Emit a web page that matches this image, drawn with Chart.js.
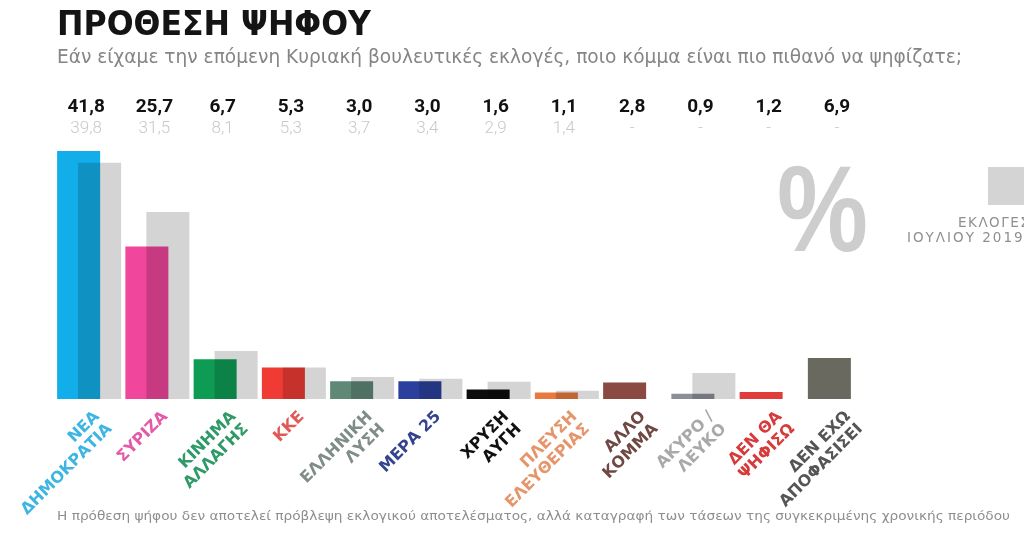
<!DOCTYPE html>
<html>
<head>
<meta charset="utf-8">
<script src="https://cdn.jsdelivr.net/npm/chart.js@4.4.0/dist/chart.umd.min.js"></script>
<style>
html,body{margin:0;padding:0;background:#fff;width:1024px;height:536px;overflow:hidden;}
#wrap{position:relative;width:1024px;height:536px;overflow:hidden;}
#c{position:absolute;left:0;top:0;}
.t{position:absolute;white-space:nowrap;margin:0;line-height:1;transform-origin:0 0;}
#title{left:57px;top:7px;font-family:"DejaVu Sans";font-weight:bold;font-size:33px;color:#141414;}
#subtitle{left:57px;top:47px;font-family:"DejaVu Sans";font-size:19px;color:#858585;}
#footer{left:57px;top:509px;font-family:"DejaVu Sans";font-size:13px;color:#8e8e8e;}
#pct{left:777px;top:147px;font-family:"Liberation Sans";font-weight:bold;font-size:123px;color:#cdcdcd;}
#legbox{position:absolute;left:988px;top:167px;width:40px;height:38px;background:#d4d4d4;}
.leg{font-family:"DejaVu Sans";font-size:13.5px;color:#8f8f8f;}
#leg1{left:958px;top:216px;letter-spacing:1.5px;}
#leg2{left:907px;top:231px;letter-spacing:2px;}
</style>
</head>
<body>
<div id="wrap">
<canvas id="c" width="1024" height="536"></canvas>
<div class="t" id="title" data-w="314">ΠΡΟΘΕΣΗ ΨΗΦΟΥ</div>
<div class="t" id="subtitle" data-w="905">Εάν είχαμε την επόμενη Κυριακή βουλευτικές εκλογές, ποιο κόμμα είναι πιο πιθανό να ψηφίζατε;</div>
<div class="t" id="pct" data-w="91">%</div>
<div id="legbox"></div>
<div class="t leg" id="leg1">ΕΚΛΟΓΕΣ</div>
<div class="t leg" id="leg2">ΙΟΥΛΙΟΥ 2019</div>
<div class="t" id="footer" data-w="953">Η πρόθεση ψήφου δεν αποτελεί πρόβλεψη εκλογικού αποτελέσματος, αλλά καταγραφή των τάσεων της συγκεκριμένης χρονικής περιόδου</div>
</div>
<script>
// ---- data ----
const categories = [
  ["ΝΕΑ","ΔΗΜΟΚΡΑΤΙΑ"], ["ΣΥΡΙΖΑ"], ["ΚΙΝΗΜΑ","ΑΛΛΑΓΗΣ"], ["ΚΚΕ"],
  ["ΕΛΛΗΝΙΚΗ","ΛΥΣΗ"], ["ΜΕΡΑ 25"], ["ΧΡΥΣΗ","ΑΥΓΗ"], ["ΠΛΕΥΣΗ","ΕΛΕΥΘΕΡΙΑΣ"],
  ["ΑΛΛΟ","ΚΟΜΜΑ"], ["ΑΚΥΡΟ /","ΛΕΥΚΟ"], ["ΔΕΝ ΘΑ","ΨΗΦΙΣΩ"], ["ΔΕΝ ΕΧΩ","ΑΠΟΦΑΣΙΣΕΙ"]
];
const currentValues  = [41.8, 25.7, 6.7, 5.3, 3.0, 3.0, 1.6, 1.1, 2.8, 0.9, 1.2, 6.9];
const previousValues = [39.8, 31.5, 8.1, 5.3, 3.7, 3.4, 2.9, 1.4, null, 4.4, null, null];
const currentLabels  = ["41,8","25,7","6,7","5,3","3,0","3,0","1,6","1,1","2,8","0,9","1,2","6,9"];
const previousLabels = ["39,8","31,5","8,1","5,3","3,7","3,4","2,9","1,4","-","-","-","-"];
const barColors   = ["#12aee9","#f0469c","#0e9c55","#ef3b33","#5f8877","#2b3f9c","#0c0c0c","#e9793f","#8a4a42","#8b8f97","#e13c3c","#6a695f"];
const labelColors = ["#3db5e2","#e25aa8","#2f9a68","#e05a55","#7f8c88","#34438f","#111111","#e6956a","#6e4842","#a9a9a9","#d83a3a","#555555"];
const previousColor = "#d4d4d4";

// ---- plugins ----
const multiplyPlugin = {
  id: 'multiply',
  beforeDatasetDraw(chart, args) {
    if (args.index === 0) { chart.ctx.save(); chart.ctx.globalCompositeOperation = 'multiply'; }
  },
  afterDatasetDraw(chart, args) {
    if (args.index === 0) { chart.ctx.restore(); }
  }
};
const numbersPlugin = {
  id: 'numbers',
  afterDraw(chart) {
    const ctx = chart.ctx, xs = chart.scales.x;
    ctx.save();
    ctx.textAlign = 'center';
    ctx.textBaseline = 'alphabetic';
    currentLabels.forEach((t, i) => {
      const x = xs.getPixelForValue(i) - 3;
      ctx.font = 'bold 19px Roboto';
      ctx.fillStyle = '#111111';
      ctx.fillText(t, x, 112);
      ctx.font = '300 17px Roboto';
      ctx.fillStyle = '#c9c9c9';
      ctx.fillText(previousLabels[i], x, 133);
    });
    ctx.restore();
  }
};

new Chart(document.getElementById('c'), {
  type: 'bar',
  data: {
    labels: categories,
    datasets: [
      { data: currentValues, backgroundColor: barColors, borderWidth: 0,
        categoryPercentage: 0.615, barPercentage: 2.05 },
      { data: previousValues, backgroundColor: previousColor, borderWidth: 0,
        categoryPercentage: 0.615, barPercentage: 2.05 }
    ]
  },
  options: {
    responsive: false,
    animation: false,
    layout: { padding: { left: 55, right: 150, top: 132, bottom: 0 } },
    plugins: { legend: { display: false }, tooltip: { enabled: false }, title: { display: false } },
    scales: {
      x: {
        type: 'category',
        offset: true,
        grid: { display: false, drawTicks: false },
        border: { display: false },
        ticks: {
          autoSkip: false, minRotation: 45, maxRotation: 45,
          padding: 9, labelOffset: 8,
          color: (ctx) => labelColors[ctx.index],
          font: { family: 'DejaVu Sans', weight: 'bold', size: 16, lineHeight: 1.1 }
        },
        afterFit: (s) => { s.height = 137; s.paddingLeft = 0; s.paddingRight = 0; }
      },
      y: { display: false, min: 0, max: 45 }
    }
  },
  plugins: [multiplyPlugin, numbersPlugin]
});

// fit HTML text widths
function fit() {
  document.querySelectorAll('[data-w]').forEach(el => {
    el.style.transform = 'none';
    const w = el.getBoundingClientRect().width;
    const target = parseFloat(el.dataset.w);
    if (w > 0) el.style.transform = 'scaleX(' + (target / w) + ')';
  });
}
fit();
if (document.fonts && document.fonts.ready) document.fonts.ready.then(fit);
</script>
</body>
</html>
